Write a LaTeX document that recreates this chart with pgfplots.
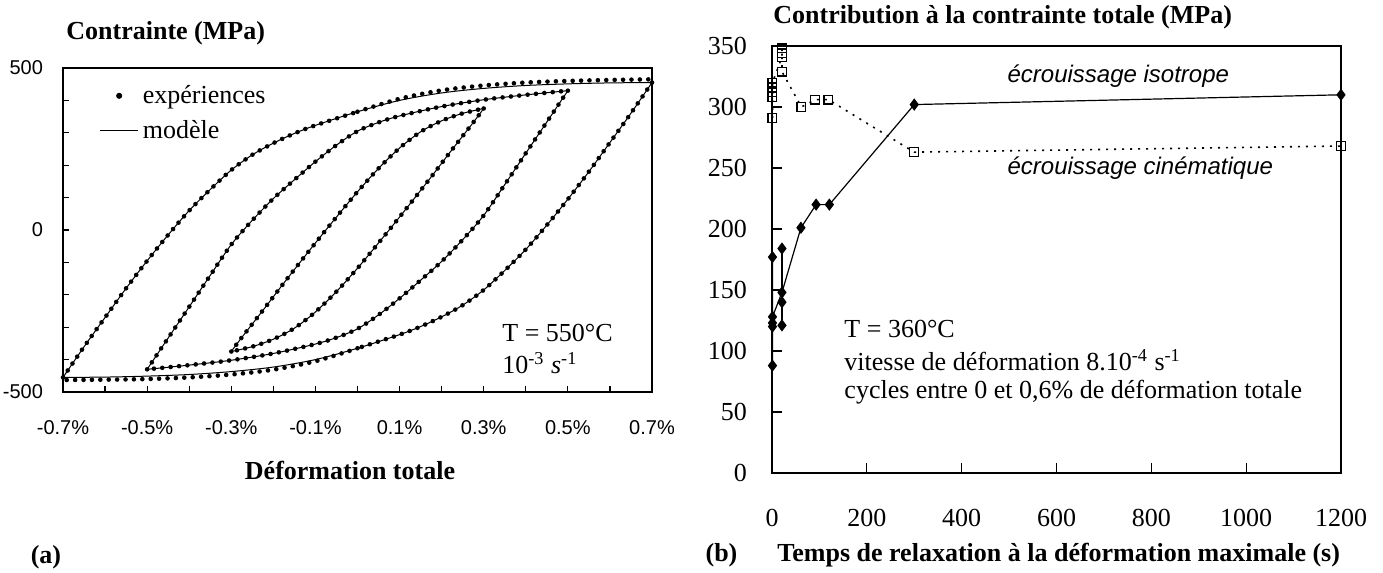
\documentclass[border=0pt]{standalone}
\usepackage{fontspec}
\setmainfont{Liberation Serif}
\newfontfamily\arialf{Liberation Sans}
\usepackage{pgfplots}
\pgfplotsset{compat=1.18}
\usepackage{pgfplotstable}

\newcommand{\lab}{\fontsize{13}{15}\selectfont\bfseries}
\newcommand{\txt}{\fontsize{13}{15.75}\selectfont}

% cycles a 550 C : branches montantes et descendantes (deformation %, contrainte MPa)
\pgfplotstableread{
e s
-0.70 -455
-0.67 -398
-0.64 -342
-0.60 -270
-0.55 -180
-0.50 -95
-0.45 -15
-0.40 60
-0.35 125
-0.30 185
-0.25 232
-0.20 268
-0.15 298
-0.10 323
0.00 365
0.10 400
0.20 423
0.30 437
0.40 446
0.50 451
0.60 454
0.70 455
}\outerUp
\pgfplotstableread{
e s
0.70 455
0.67 398
0.64 342
0.60 270
0.55 180
0.50 95
0.45 15
0.40 -60
0.35 -125
0.30 -185
0.25 -232
0.20 -268
0.15 -298
0.10 -323
0.00 -365
-0.10 -400
-0.20 -423
-0.30 -437
-0.40 -446
-0.50 -451
-0.60 -454
-0.70 -455
}\outerDown
\pgfplotstableread{
e s
-0.50 -430
-0.47 -372
-0.44 -314
-0.40 -237
-0.35 -140
-0.30 -45
-0.25 30
-0.20 97
-0.15 155
-0.10 211
-0.05 262
0.00 305
0.05 332
0.10 352
0.20 381
0.30 402
0.40 417
0.50 430
}\midUp
\pgfplotstableread{
e s
0.50 430
0.47 372
0.44 314
0.40 237
0.35 140
0.30 45
0.25 -30
0.20 -97
0.15 -155
0.10 -211
0.05 -262
0.00 -305
-0.05 -332
-0.10 -352
-0.20 -381
-0.30 -402
-0.40 -417
-0.50 -430
}\midDown
\pgfplotstableread{
e s
-0.30 -375
-0.28 -340
-0.25 -290
-0.22 -240
-0.18 -172
-0.15 -122
-0.10 -40
-0.05 40
0.00 118
0.05 190
0.10 253
0.15 303
0.20 337
0.25 360
0.30 375
}\innUp
\pgfplotstableread{
e s
0.30 375
0.28 340
0.25 290
0.22 240
0.18 172
0.15 122
0.10 40
0.05 -40
0.00 -118
-0.05 -190
-0.10 -253
-0.15 -303
-0.20 -337
-0.25 -360
-0.30 -375
}\innDown
% points experimentaux sur les paliers (un peu au-dessus / au-dessous du modele)
\pgfplotstableread{
e s
0.00 365
0.10 405
0.20 431
0.30 446
0.40 455
0.50 460
0.60 463
0.70 465
}\outerUpExp
\pgfplotstableread{
e s
0.00 -365
-0.10 -405
-0.20 -431
-0.30 -446
-0.40 -455
-0.50 -460
-0.60 -462
-0.70 -463
}\outerDownExp

% contributions a 360 C (temps s, MPa)
\pgfplotstableread{
t c
1 177
1 88
1 120
1 123
1 128
21 148
61 201
93 220
121 220
300 302
1200 310
}\isoA
\pgfplotstableread{
t c
21 184
21 140
21 121
}\isoB
\pgfplotstableread{
t c
1 291
1 308
1 312
1 316
1 320
21 341
21 344
21 348
21 329
62 300
91 306
119 306
300 263
1200 268
}\kin

\begin{document}
\begin{tikzpicture}
\useasboundingbox (0,0) rectangle (691.5pt,286.5pt);
\tikzset{
  model/.style={black,line width=0.5pt,smooth},
  exp/.style={black,line width=2.3pt,dash pattern=on 0pt off 4.2pt,line cap=round,smooth}
}
\begin{axis}[
  at={(31.5pt,90.5pt)},anchor=south west,scale only axis,
  width=294.5pt,height=162pt,
  xmin=-0.7,xmax=0.7,ymin=-500,ymax=500,
  xtick={-0.7,-0.5,-0.3,-0.1,0.1,0.3,0.5,0.7},
  xticklabels={-0.7\%,-0.5\%,-0.3\%,-0.1\%,0.1\%,0.3\%,0.5\%,0.7\%},
  minor xtick={-0.6,-0.4,-0.2,0,0.2,0.4,0.6},
  ytick={-500,0,500},yticklabels={-500,0,500},
  minor ytick={-400,-300,-200,-100,100,200,300,400},
  tick pos=left,tick align=inside,
  major tick length=3pt,minor tick length=3pt,
  every tick/.style={black,line width=0.6pt},
  axis line style={line width=0.7pt},
  ticklabel style={font=\fontsize{10}{12}\arialf},
  xticklabel style={yshift=-10.5pt},
  yticklabel style={xshift=-6.5pt},
  clip=false,
  legend style={draw=none,fill=none,at={(axis cs:-0.614,360)},anchor=west,
    font=\txt,inner sep=0pt,row sep=3pt,nodes={inner sep=2pt}},
  legend cell align=left,
]
\addlegendimage{legend image code/.code={\fill[black] (9.5pt,0pt) circle (1.3pt);}}
\addlegendentry{expériences}
\addlegendimage{legend image code/.code={\draw[black,line width=0.6pt] (0pt,0pt) -- (19pt,0pt);}}
\addlegendentry{modèle}
\addplot[model] table {\outerUp};
\addplot[model] table {\outerDown};
\addplot[model] table {\midUp};
\addplot[model] table {\midDown};
\addplot[model] table {\innUp};
\addplot[model] table {\innDown};
\addplot[exp] table[restrict x to domain=-0.7:0] {\outerUp};
\addplot[exp] table {\outerUpExp};
\addplot[exp] table[restrict x to domain=0:0.7] {\outerDown};
\addplot[exp] table {\outerDownExp};
\addplot[exp] table {\midUp};
\addplot[exp] table {\midDown};
\addplot[exp] table {\innUp};
\addplot[exp] table {\innDown};
\node[anchor=west,font=\txt,inner sep=0pt] at (axis cs:0.3435,-318) {T = 550°C};
\node[anchor=west,font=\txt,inner sep=0pt] at (axis cs:0.3435,-410) {10\textsuperscript{-3} \textit{s}\textsuperscript{-1}};
\end{axis}

\begin{axis}[
  at={(386pt,50pt)},anchor=south west,scale only axis,
  width=284.5pt,height=213.5pt,
  xmin=0,xmax=1200,ymin=0,ymax=350,
  xtick={0,200,...,1200},ytick={0,50,...,350},
  tick pos=left,tick align=inside,major tick length=5pt,
  every tick/.style={black,line width=0.6pt},
  axis line style={line width=0.7pt},
  ticklabel style={font=\txt},
  /pgf/number format/assume math mode=true,
  /pgf/number format/1000 sep={},
  xticklabel style={yshift=-14.7pt},
  yticklabel style={xshift=-9pt},
  clip=false,
]
\addplot[black,line width=0.8pt,dash pattern=on 1pt off 3pt,mark=square,mark size=2.2pt,
  mark options={solid,line width=0.6pt,fill=white}] table {\kin};
\addplot[black,line width=0.6pt,mark=diamond*,mark size=2.6pt] table {\isoA};
\addplot[black,line width=0.6pt,mark=diamond*,mark size=2.6pt] table {\isoB};
\node[anchor=west,font=\fontsize{12}{14}\arialf\itshape,inner sep=0pt] at (axis cs:496,325) {écrouissage isotrope};
\node[anchor=west,font=\fontsize{12}{14}\arialf\itshape,inner sep=0pt] at (axis cs:496,250) {écrouissage cinématique};
\node[anchor=west,font=\txt,inner sep=0pt] at (axis cs:152,118) {T = 360°C};
\node[anchor=west,font=\txt,inner sep=0pt] at (axis cs:152,92.6) {vitesse de déformation 8.10\textsuperscript{-4} s\textsuperscript{-1}};
\node[anchor=west,font=\txt,inner sep=0pt] at (axis cs:152,66.4) {cycles entre 0 et 0,6\% de déformation totale};
\end{axis}

\node[anchor=west,font=\lab,inner sep=0pt] at (33pt,270pt) {Contrainte (MPa)};
\node[font=\lab,inner sep=0pt] at (175pt,51.5pt) {Déformation totale};
\node[font=\lab,inner sep=0pt] at (23pt,8pt) {(a)};
\node[anchor=west,font=\lab,inner sep=0pt] at (386.5pt,278pt) {Contribution à la contrainte totale (MPa)};
\node[font=\lab,inner sep=0pt] at (360.75pt,9pt) {(b)};
\node[anchor=west,font=\lab,inner sep=0pt] at (388.5pt,9pt) {Temps de relaxation à la déformation maximale (s)};
\end{tikzpicture}
\end{document}
